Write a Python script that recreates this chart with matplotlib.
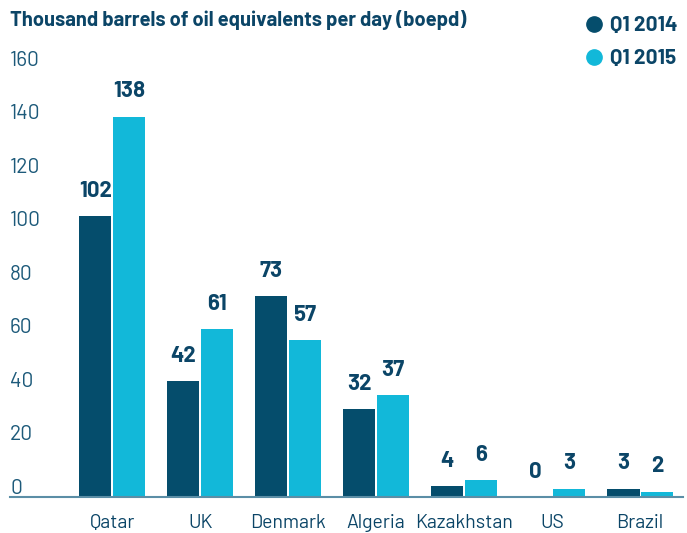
import matplotlib.pyplot as plt
from matplotlib.lines import Line2D
import numpy as np
from matplotlib import font_manager

countries = ["Qatar", "UK", "Denmark", "Algeria", "Kazakhstan", "US", "Brazil"]
q1_2014 = [102, 42, 73, 32, 4, 0, 3]
q1_2015 = [138, 61, 57, 37, 6, 3, 2]
y_ticks = [0, 20, 40, 60, 80, 100, 120, 140, 160]

DARK = "#054d6c"
LIGHT = "#12b8d9"
TEXT = "#0b4567"

# pick a DIN-like font if the sandbox has one
names = {f.name for f in font_manager.fontManager.ttflist}
fam = "DejaVu Sans"
for cand in ["Barlow", "Barlow Semi Condensed", "Roboto"]:
    if cand in names:
        fam = cand
        break
plt.rcParams["font.family"] = [fam, "DejaVu Sans"]

fig = plt.figure(figsize=(6.87, 5.33), dpi=100)
ax = fig.add_axes([0.0146, 0.0675, 0.98, 0.853])

x = np.arange(len(countries))
w = 0.365
off = 0.19
b1 = ax.bar(x - off, q1_2014, w, color=DARK)
b2 = ax.bar(x + off, q1_2015, w, color=LIGHT)

for bars, vals in [(b1, q1_2014), (b2, q1_2015)]:
    for b, v in zip(bars, vals):
        ax.annotate(str(v), (b.get_x() + b.get_width() / 2, v),
                    xytext=(0, 11), textcoords="offset points",
                    ha="center", va="bottom", fontsize=16,
                    fontweight="bold", color=TEXT)

ax.set_xlim(-1.16, 6.49)
ax.set_ylim(0, 165)
ax.set_xticks(x)
ax.set_xticklabels(countries, fontsize=14, color=TEXT)
ax.tick_params(axis="x", length=0, pad=12)
ax.set_yticks([])

# the printed scale labels are spaced a bit tighter than the bars' scale,
# so they get their own (hidden) axis
lab = ax.twinx()
lab.set_ylim(-3.36, 166.6)
lab.axis("off")
for t in y_ticks:
    lab.text(0.0, t, str(t), transform=lab.get_yaxis_transform(),
             ha="left", va="center", fontsize=15, color="#1d5a7a")

for s in ["top", "right", "left"]:
    ax.spines[s].set_visible(False)
ax.spines["bottom"].set_color("#5b8ea6")
ax.spines["bottom"].set_linewidth(1.5)

fig.text(0.0146, 0.962, "Thousand barrels of oil equivalents per day (boepd)",
         fontsize=14.5, fontweight="bold", color=TEXT, va="center")

handles = [Line2D([], [], marker="o", ls="", color=DARK, markersize=11),
           Line2D([], [], marker="o", ls="", color=LIGHT, markersize=11)]
leg = fig.legend(handles, ["Q1 2014", "Q1 2015"], loc="upper right",
                 bbox_to_anchor=(1.014, 1.005), frameon=False, labelspacing=0.68,
                 handletextpad=0.3, handlelength=1.0,
                 prop={"size": 15, "weight": "bold"})
for t in leg.get_texts():
    t.set_color(TEXT)

fig.savefig("out.png", dpi=100)
